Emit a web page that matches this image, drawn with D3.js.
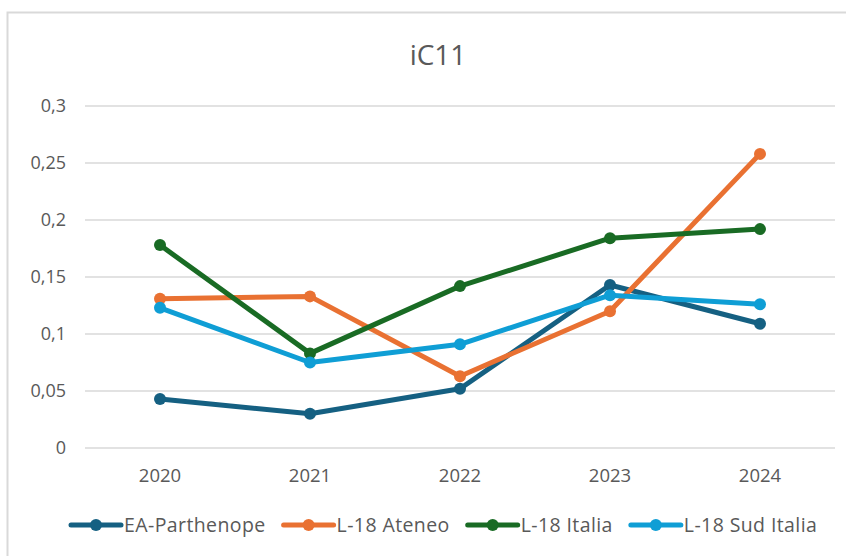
<!DOCTYPE html>
<html lang="it">
<head>
    <meta charset="UTF-8">
    <title>iC11</title>
    <script src="https://d3js.org/d3.v7.min.js"></script>
    <style>
        body {
            margin: 0;
            background-color: #fff;
        }
        svg {
            display: block;
        }
        text {
            font-family: "Open Sans", "Liberation Sans", sans-serif;
            fill: #595959;
        }
        .grid line {
            stroke: #d9d9d9;
            stroke-width: 1.3px;
        }
    </style>
</head>
<body>
    <svg width="846" height="556"></svg>
    <script>
        // dati
        const anni = ["2020", "2021", "2022", "2023", "2024"];
        const serie = ["EA-Parthenope", "L-18 Ateneo", "L-18 Italia", "L-18 Sud Italia"];
        const eaParthenope = [0.043, 0.030, 0.052, 0.143, 0.109];
        const l18Ateneo = [0.131, 0.133, 0.063, 0.120, 0.258];
        const l18Italia = [0.178, 0.083, 0.142, 0.184, 0.192];
        const l18SudItalia = [0.123, 0.075, 0.091, 0.134, 0.126];
        const yTicks = [0, 0.05, 0.1, 0.15, 0.2, 0.25, 0.3];

        const valori = [eaParthenope, l18Ateneo, l18Italia, l18SudItalia];
        const colori = ["#156082", "#e97132", "#196b24", "#0f9ed5"];

        const svg = d3.select("svg");

        // cornice del grafico
        svg.append("rect")
            .attr("x", 7.5).attr("y", 12.5)
            .attr("width", 880).attr("height", 600)
            .attr("fill", "#fff")
            .attr("stroke", "#d9d9d9")
            .attr("stroke-width", 2);

        const x = d3.scaleBand().domain(anni).range([85, 835]);
        const y = d3.scaleLinear().domain([0, 0.3]).range([448, 106]);

        // griglia
        svg.append("g").attr("class", "grid")
            .selectAll("line")
            .data(yTicks)
            .enter().append("line")
            .attr("x1", 85).attr("x2", 835)
            .attr("y1", d => y(d)).attr("y2", d => y(d));

        const fmt = d => String(+d.toFixed(2)).replace(".", ",");

        const yAxis = svg.append("g")
            .attr("transform", "translate(66,0)")
            .call(d3.axisLeft(y).tickValues(yTicks).tickFormat(fmt).tickSize(0).tickPadding(0));
        yAxis.select(".domain").remove();
        yAxis.selectAll("text").style("font-size", "18px").attr("fill", "#595959");

        const xAxis = svg.append("g")
            .attr("transform", "translate(0,469)")
            .call(d3.axisBottom(x).tickSize(0).tickPadding(0));
        xAxis.select(".domain").remove();
        xAxis.selectAll("text").style("font-size", "18.5px").attr("fill", "#595959");

        svg.selectAll(".tick text").style("font-family", "'Open Sans', 'Liberation Sans', sans-serif");

        // titolo
        svg.append("text")
            .attr("x", 438).attr("y", 65)
            .attr("text-anchor", "middle")
            .style("font-size", "28px")
            .text("iC11");

        const line = d3.line()
            .x((d, i) => x(anni[i]) + x.bandwidth() / 2)
            .y(d => y(d));

        const gruppi = svg.append("g")
            .selectAll("g")
            .data(valori)
            .enter().append("g");

        gruppi.append("path")
            .attr("d", d => line(d))
            .attr("fill", "none")
            .attr("stroke", (d, i) => colori[i])
            .attr("stroke-width", 5)
            .attr("stroke-linejoin", "round")
            .attr("stroke-linecap", "round");

        gruppi.each(function (d, si) {
            d3.select(this).selectAll("circle")
                .data(d)
                .enter().append("circle")
                .attr("cx", (v, i) => x(anni[i]) + x.bandwidth() / 2)
                .attr("cy", v => y(v))
                .attr("r", 6)
                .attr("fill", colori[si]);
        });

        // legenda
        const legenda = svg.append("g").attr("transform", "translate(0,525)");
        let pos = 71;
        serie.forEach((nome, i) => {
            const it = legenda.append("g").attr("transform", `translate(${pos},0)`);
            it.append("line")
                .attr("x1", 0).attr("x2", 50)
                .attr("stroke", colori[i]).attr("stroke-width", 5)
                .attr("stroke-linecap", "round");
            it.append("circle").attr("cx", 25).attr("r", 6).attr("fill", colori[i]);
            const t = it.append("text")
                .attr("x", 53).attr("dy", "0.35em")
                .style("font-size", "19.5px")
                .style("letter-spacing", "0.4px")
                .text(nome);
            pos += 53 + t.node().getComputedTextLength() + 18;
        });
    </script>
</body>
</html>
